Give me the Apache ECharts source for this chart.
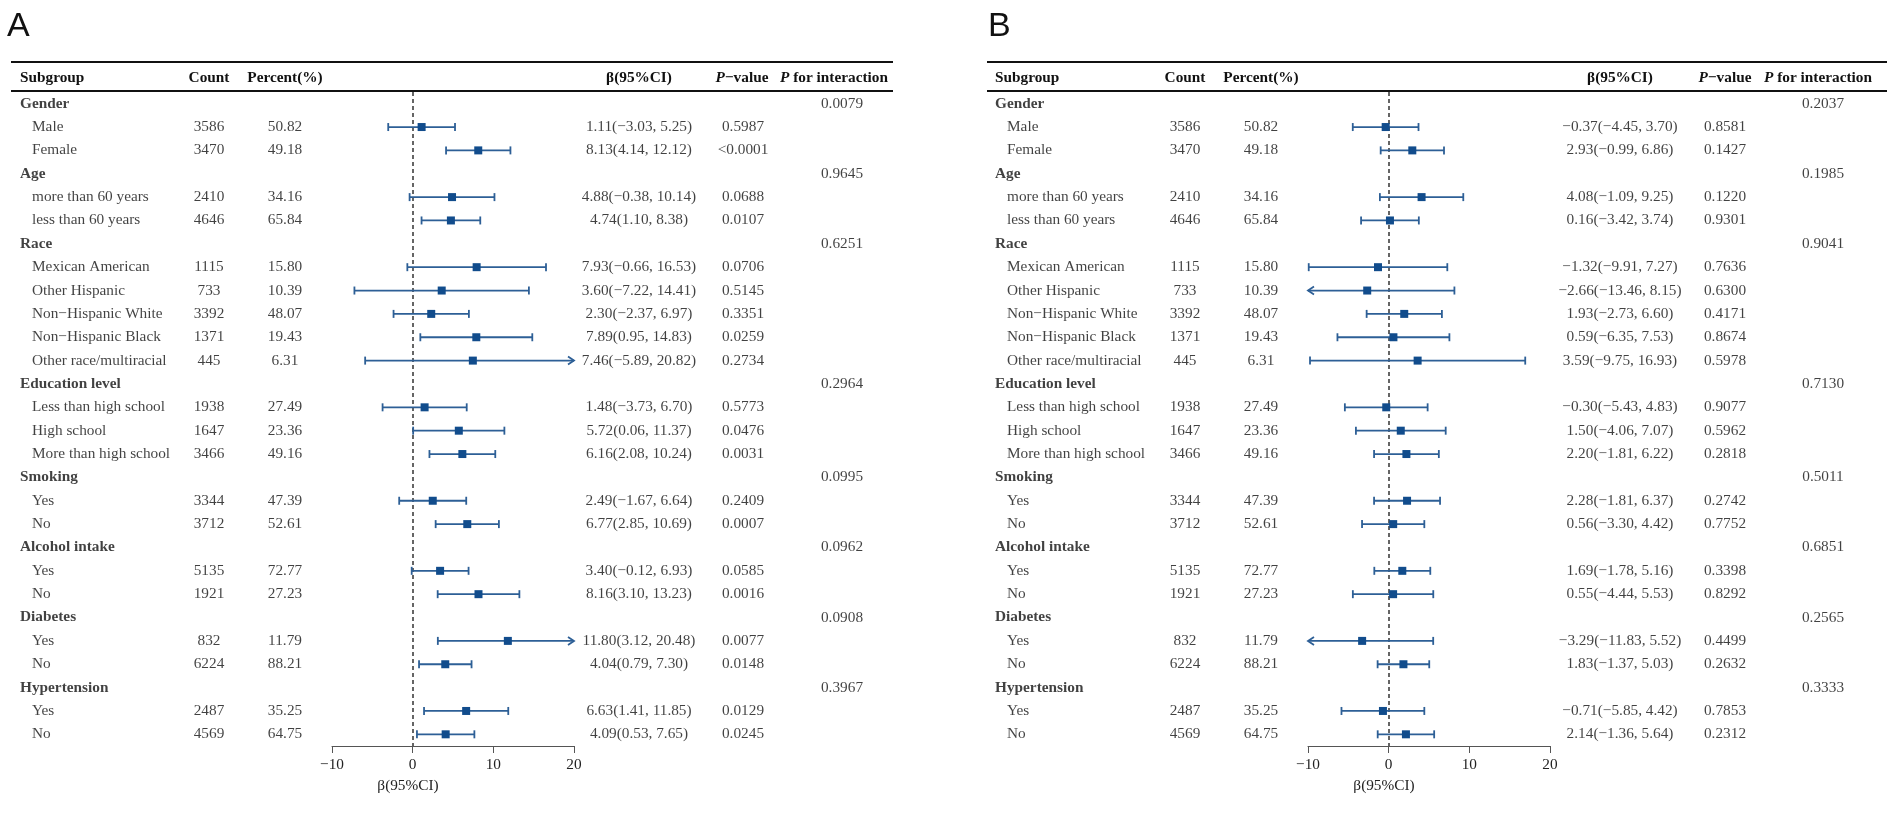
<!DOCTYPE html>
<html>
<head>
<meta charset="utf-8">
<script src="https://cdn.jsdelivr.net/npm/echarts@6/dist/echarts.min.js"></script>
<style>
html,body{margin:0;padding:0;background:#fff;}
#chart{width:1902px;height:817px;}
</style>
</head>
<body>
<div id="chart"></div>
<script>
// ---------------- data ----------------
const subgroups = ['Gender','Male','Female','Age','more than 60 years','less than 60 years','Race','Mexican American','Other Hispanic','Non\u2212Hispanic White','Non\u2212Hispanic Black','Other race/multiracial','Education level','Less than high school','High school','More than high school','Smoking','Yes','No','Alcohol intake','Yes','No','Diabetes','Yes','No','Hypertension','Yes','No'];
const isGroup = [1,0,0,1,0,0,1,0,0,0,0,0,1,0,0,0,1,0,0,1,0,0,1,0,0,1,0,0];
const counts = ['','3586','3470','','2410','4646','','1115','733','3392','1371','445','','1938','1647','3466','','3344','3712','','5135','1921','','832','6224','','2487','4569'];
const percents = ['','50.82','49.18','','34.16','65.84','','15.80','10.39','48.07','19.43','6.31','','27.49','23.36','49.16','','47.39','52.61','','72.77','27.23','','11.79','88.21','','35.25','64.75'];

const aEst  = [null,1.11,8.13,null,4.88,4.74,null,7.93,3.60,2.30,7.89,7.46,null,1.48,5.72,6.16,null,2.49,6.77,null,3.40,8.16,null,11.80,4.04,null,6.63,4.09];
const aLow  = [null,-3.03,4.14,null,-0.38,1.10,null,-0.66,-7.22,-2.37,0.95,-5.89,null,-3.73,0.06,2.08,null,-1.67,2.85,null,-0.12,3.10,null,3.12,0.79,null,1.41,0.53];
const aHigh = [null,5.25,12.12,null,10.14,8.38,null,16.53,14.41,6.97,14.83,20.82,null,6.70,11.37,10.24,null,6.64,10.69,null,6.93,13.23,null,20.48,7.30,null,11.85,7.65];
const aP    = ['','0.5987','<0.0001','','0.0688','0.0107','','0.0706','0.5145','0.3351','0.0259','0.2734','','0.5773','0.0476','0.0031','','0.2409','0.0007','','0.0585','0.0016','','0.0077','0.0148','','0.0129','0.0245'];
const aPint = ['0.0079','','','0.9645','','','0.6251','','','','','','0.2964','','','','0.0995','','','0.0962','','','0.0908','','','0.3967','',''];

const bEst  = [null,-0.37,2.93,null,4.08,0.16,null,-1.32,-2.66,1.93,0.59,3.59,null,-0.30,1.50,2.20,null,2.28,0.56,null,1.69,0.55,null,-3.29,1.83,null,-0.71,2.14];
const bLow  = [null,-4.45,-0.99,null,-1.09,-3.42,null,-9.91,-13.46,-2.73,-6.35,-9.75,null,-5.43,-4.06,-1.81,null,-1.81,-3.30,null,-1.78,-4.44,null,-11.83,-1.37,null,-5.85,-1.36];
const bHigh = [null,3.70,6.86,null,9.25,3.74,null,7.27,8.15,6.60,7.53,16.93,null,4.83,7.07,6.22,null,6.37,4.42,null,5.16,5.53,null,5.52,5.03,null,4.42,5.64];
const bP    = ['','0.8581','0.1427','','0.1220','0.9301','','0.7636','0.6300','0.4171','0.8674','0.5978','','0.9077','0.5962','0.2818','','0.2742','0.7752','','0.3398','0.8292','','0.4499','0.2632','','0.7853','0.2312'];
const bPint = ['0.2037','','','0.1985','','','0.9041','','','','','','0.7130','','','','0.5011','','','0.6851','','','0.2565','','','0.3333','',''];

const xTicks = [-10, 0, 10, 20];

// ---------------- layout ----------------
const SERIF = '"Liberation Serif","Times New Roman",serif';
const FS = 15.3;
const TOP = 92, HEIGHT = 654;
const LINE_COL = '#2d5f96', BOX_COL = '#114c8c';
const panels = [
  {letter:'A', est:aEst, low:aLow, high:aHigh, p:aP, pint:aPint,
   ruleL:11, ruleR:893, sub:20, child:32, count:209, pct:285, ci:639, pv:743, pvH:742, pi:842, piH:834,
   fLeft:332, fWidth:242, xlab:408, letterX:7},
  {letter:'B', est:bEst, low:bLow, high:bHigh, p:bP, pint:bPint,
   ruleL:987, ruleR:1887, sub:995, child:1007, count:1185, pct:1261, ci:1620, pv:1725, pvH:1725, pi:1823, piH:1818,
   fLeft:1308, fWidth:242, xlab:1384, letterX:988}
];

const fmt = v => v.toFixed(2).replace('-', '\u2212');

const grids = [{left:0, right:0, top:TOP, height:HEIGHT}];
const xAxes = [{gridIndex:0, type:'value', min:0, max:1902, show:false}];
const yAxes = [{gridIndex:0, type:'category', data:subgroups.map((s,i)=>String(i)), inverse:true, show:false}];
const series = [];
const graphics = [];

function textSeries(points, align, bold) {
  return {
    type:'scatter', xAxisIndex:0, yAxisIndex:0, symbolSize:0, silent:true,
    data: points,
    label:{show:true, position:'inside', formatter:'{b}', align:align, verticalAlign:'middle',
      fontFamily:SERIF, fontSize:FS, color:'#111', fontWeight: bold ? 'bold' : 'normal'},
    z:5
  };
}

panels.forEach((P, k) => {
  const gi = k + 1;
  grids.push({left:P.fLeft, width:P.fWidth, top:TOP, height:HEIGHT});
  xAxes.push({gridIndex:gi, type:'value', min:xTicks[0], max:xTicks[xTicks.length-1], interval:10,
    splitLine:{show:false},
    axisLine:{show:true, onZero:false, lineStyle:{color:'#555', width:1}},
    axisTick:{show:true, length:7, lineStyle:{color:'#555', width:1}},
    axisLabel:{fontFamily:SERIF, fontSize:FS, color:'#222', margin:11,
      formatter: v => String(v).replace('-', '\u2212')}
  });
  yAxes.push({gridIndex:gi, type:'category', data:subgroups.map((s,i)=>String(i)), inverse:true, show:false});

  // text columns
  const grp = [], chd = [], cnt = [], pct = [], ci = [], pv = [], pint = [];
  subgroups.forEach((s, i) => {
    if (isGroup[i]) grp.push({name:s, value:[P.sub, i]});
    else chd.push({name:s, value:[P.child, i]});
    if (counts[i]) cnt.push({name:counts[i], value:[P.count, i]});
    if (percents[i]) pct.push({name:percents[i], value:[P.pct, i]});
    if (P.est[i] !== null) ci.push({name: fmt(P.est[i]) + '(' + fmt(P.low[i]) + ', ' + fmt(P.high[i]) + ')', value:[P.ci, i]});
    if (P.p[i]) pv.push({name:P.p[i], value:[P.pv, i]});
    if (P.pint[i]) pint.push({name:P.pint[i], value:[P.pi, i]});
  });
  series.push(textSeries(grp, 'left', true));
  series.push(textSeries(chd, 'left', false));
  series.push(textSeries(cnt, 'center', false));
  series.push(textSeries(pct, 'center', false));
  series.push(textSeries(ci, 'center', false));
  series.push(textSeries(pv, 'center', false));
  series.push(textSeries(pint, 'center', false));

  // forest
  const fdata = [];
  P.est.forEach((e, i) => { if (e !== null) fdata.push([i, e, P.low[i], P.high[i]]); });
  const xmin = xTicks[0], xmax = xTicks[xTicks.length-1];
  series.push({
    type:'custom', xAxisIndex:gi, yAxisIndex:gi, silent:true, z:10,
    data: fdata,
    encode:{x:[1,2,3], y:0},
    renderItem: function(params, api) {
      const row = api.value(0), e = api.value(1), lo = api.value(2), hi = api.value(3);
      const loC = Math.max(lo, xmin), hiC = Math.min(hi, xmax);
      const pL = api.coord([loC, row]), pH = api.coord([hiC, row]), pE = api.coord([e, row]);
      const y = pE[1];
      const ls = {stroke:LINE_COL, lineWidth:1.8, fill:null};
      const ch = [{type:'line', shape:{x1:pL[0], y1:y, x2:pH[0], y2:y}, style:ls}];
      if (lo < xmin) {
        ch.push({type:'polyline', shape:{points:[[pL[0]+6,y-4],[pL[0],y],[pL[0]+6,y+4]]}, style:ls});
      } else {
        ch.push({type:'line', shape:{x1:pL[0], y1:y-4, x2:pL[0], y2:y+4}, style:ls});
      }
      if (hi > xmax) {
        ch.push({type:'polyline', shape:{points:[[pH[0]-6,y-4],[pH[0],y],[pH[0]-6,y+4]]}, style:ls});
      } else {
        ch.push({type:'line', shape:{x1:pH[0], y1:y-4, x2:pH[0], y2:y+4}, style:ls});
      }
      ch.push({type:'rect', shape:{x:pE[0]-4, y:y-4, width:8, height:8}, style:{fill:BOX_COL}});
      return {type:'group', children:ch};
    },
    markLine:{silent:true, symbol:['none','none'], label:{show:false},
      lineStyle:{type:[4,3], color:'#333', width:1.5}, data:[{xAxis:0}]}
  });

  // rules, headers, letters, x label
  graphics.push({type:'line', shape:{x1:P.ruleL, y1:62, x2:P.ruleR, y2:62}, style:{stroke:'#111', lineWidth:2}});
  graphics.push({type:'line', shape:{x1:P.ruleL, y1:91, x2:P.ruleR, y2:91}, style:{stroke:'#111', lineWidth:2}});
  graphics.push({type:'text', x:P.letterX, y:27, style:{text:P.letter, font:'normal 34px "Liberation Sans",Arial,sans-serif', fill:'#111', align:'left', textAlign:'left', verticalAlign:'middle', textVerticalAlign:'middle'}});
  const head = (txt, x, al) => ({type:'text', x:x, y:78, style:{text:txt, font:'bold ' + FS + 'px ' + SERIF, fill:'#111', align:al, textAlign:al, verticalAlign:'middle', textVerticalAlign:'middle'}});
  graphics.push(head('Subgroup', P.sub, 'left'));
  graphics.push(head('Count', P.count, 'center'));
  graphics.push(head('Percent(%)', P.pct, 'center'));
  graphics.push(head('\u03b2(95%CI)', P.ci, 'center'));
  const rich = {i:{fontFamily:SERIF, fontSize:FS, fontWeight:'bold', fontStyle:'italic', fill:'#111'}, b:{fontFamily:SERIF, fontSize:FS, fontWeight:'bold', fill:'#111'}};
  graphics.push({type:'text', x:P.pvH, y:78, style:{text:'{i|P}{b|\u2212value}', align:'center', textAlign:'center', verticalAlign:'middle', textVerticalAlign:'middle', fill:'#111', rich:rich}});
  graphics.push({type:'text', x:P.piH, y:78, style:{text:'{i|P}{b| for interaction}', align:'center', textAlign:'center', verticalAlign:'middle', textVerticalAlign:'middle', fill:'#111', rich:rich}});
  graphics.push({type:'text', x:P.xlab, y:786, style:{text:'\u03b2(95%CI)', font:'normal ' + FS + 'px ' + SERIF, fill:'#222', align:'center', textAlign:'center', verticalAlign:'middle', textVerticalAlign:'middle'}});
});

const chart = echarts.init(document.getElementById('chart'), null, {renderer:'canvas'});
chart.setOption({
  backgroundColor:'#fff',
  animation:false,
  grid:grids, xAxis:xAxes, yAxis:yAxes,
  series:series,
  graphic:graphics
});
</script>
</body>
</html>
